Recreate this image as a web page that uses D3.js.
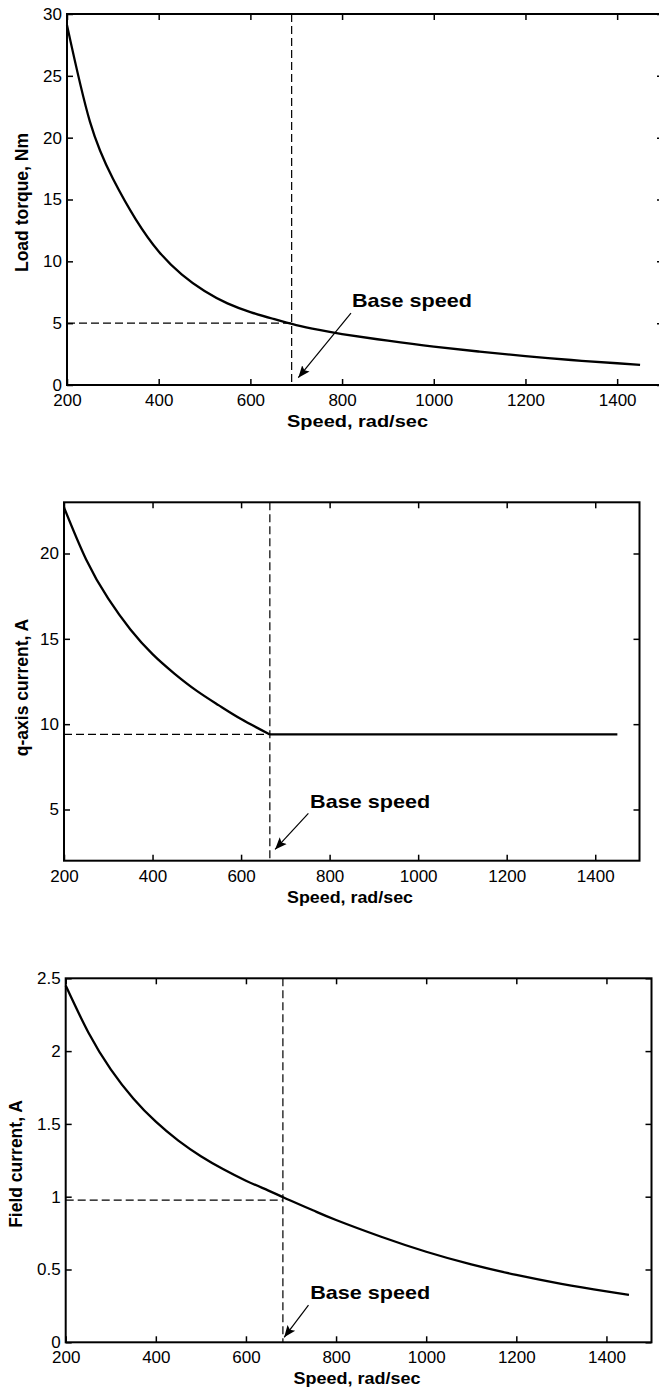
<!DOCTYPE html>
<html>
<head>
<meta charset="utf-8">
<script src="https://cdn.jsdelivr.net/npm/d3@7"></script>
<style>
  body { margin: 0; background: #fff; }
  svg { display: block; font-family: "Liberation Sans", Arial, sans-serif; }
  .tick text { font-size: 17px; fill: #000; }
  .tick line { stroke: #000; stroke-width: 1.5; }
  .domain { display: none; }
</style>
</head>
<body>
<svg id="chart" width="659" height="1393"></svg>
<script>
// ----------------------------------------------------------------------------------------------------------------------
// DATA -----------------------------------------------------------------------------------------------------------------
// ----------------------------------------------------------------------------------------------------------------------

// Shared speed axis
var xTicks = [200, 400, 600, 800, 1000, 1200, 1400];

// Load torque vs speed
var speed1 = [200, 250, 300, 350, 400, 450, 500, 550, 600, 650, 700, 750, 800, 900, 1000, 1100, 1200, 1300, 1400, 1450];
var torque = [29.1, 21.3, 16.7, 13.4, 10.8, 8.95, 7.6, 6.6, 5.9, 5.35, 4.85, 4.45, 4.12, 3.58, 3.1, 2.7, 2.33, 2.02, 1.76, 1.62];
var yTicks1 = [0, 5, 10, 15, 20, 25, 30];

// q-axis current vs speed (constant above base speed)
var speed2 = [200, 250, 300, 350, 400, 450, 500, 550, 600, 665, 900, 1200, 1450];
var iq = [22.7, 19.65, 17.35, 15.55, 14.1, 12.95, 11.95, 11.1, 10.3, 9.4, 9.4, 9.4, 9.4];
var yTicks2 = [5, 10, 15, 20];

// Field current vs speed
var speed3 = [200, 250, 300, 350, 400, 450, 500, 550, 600, 650, 682, 700, 750, 800, 900, 1000, 1100, 1200, 1300, 1400, 1450];
var field = [2.45, 2.13, 1.875, 1.675, 1.515, 1.385, 1.278, 1.188, 1.11, 1.042, 0.997, 0.972, 0.905, 0.84, 0.725, 0.622, 0.535, 0.463, 0.402, 0.35, 0.326];
var yTicks3 = [0, 0.5, 1, 1.5, 2, 2.5];

// Base speed reference points (speed, value)
var base1 = [690, 5.0];
var base2 = [665, 9.4];
var base3 = [682, 0.977];

// ----------------------------------------------------------------------------------------------------------------------
// PANELS ---------------------------------------------------------------------------------------------------------------
// ----------------------------------------------------------------------------------------------------------------------

var panels = [
  { top: 14, bottom: 385, left: 67, right: 663, yDomain: [0, 30], yTicks: yTicks1,
    xs: speed1, ys: torque, knee: null, base: base1,
    yLabel: "Load torque, Nm", yLabelX: 27.5, yLabelMid: 202.5, xLabelMid: 357.5, xLabelLen: 141,
    note: { text: [821.6, 6.31], from: [819.4, 5.82], to: [704.5, 0.59] } },
  { top: 502.3, bottom: 860.7, left: 64, right: 639.5, yDomain: [2, 23], yTicks: yTicks2,
    xs: speed2, ys: iq, knee: 9, base: base2,
    yLabel: "q-axis current, A", yLabelX: 27.5, yLabelMid: 687.5, xLabelMid: 350, xLabelLen: 126,
    note: { text: [756, 5.09], from: [752, 4.77], to: [676.8, 2.66] } },
  { top: 978.3, bottom: 1342.3, left: 65.7, right: 651.5, yDomain: [0, 2.5], yTicks: yTicks3,
    xs: speed3, ys: field, knee: null, base: base3,
    yLabel: "Field current, A", yLabelX: 21.8, yLabelMid: 1164, xLabelMid: 357, xLabelLen: 127,
    note: { text: [742.6, 0.295], from: [738.8, 0.256], to: [684.8, 0.034] } }
];

var svg = d3.select("#chart");

// Arrow head marker
svg.append("defs").append("marker")
  .attr("id", "arrow")
  .attr("markerUnits", "userSpaceOnUse")
  .attr("viewBox", "0 -5 10 10")
  .attr("refX", 10)
  .attr("refY", 0)
  .attr("markerWidth", 12)
  .attr("markerHeight", 12)
  .attr("orient", "auto")
  .append("path")
    .attr("d", "M0,-4L10,0L0,4L2,0Z")
    .attr("fill", "#000");

panels.forEach(function(p) {

  var x = d3.scaleLinear().domain([200, 1500]).range([p.left, p.right]);
  var y = d3.scaleLinear().domain(p.yDomain).range([p.bottom, p.top]);
  var g = svg.append("g");

  // Axes, ticks pointing inwards on all four sides
  g.append("g")
    .attr("transform", "translate(0," + p.bottom + ")")
    .call(d3.axisBottom(x).tickValues(xTicks).tickSize(-6).tickPadding(9).tickFormat(d3.format("d")));
  g.append("g")
    .attr("transform", "translate(0," + p.top + ")")
    .call(d3.axisTop(x).tickValues(xTicks).tickSize(-6).tickFormat(""));
  g.append("g")
    .attr("transform", "translate(" + p.left + ",0)")
    .call(d3.axisLeft(y).tickValues(p.yTicks).tickSize(-6).tickPadding(5).tickFormat(function(d) { return String(d); }));
  g.append("g")
    .attr("transform", "translate(" + p.right + ",0)")
    .call(d3.axisRight(y).tickValues(p.yTicks).tickSize(-6).tickFormat(""));

  g.selectAll(".tick text").attr("fill", "#000");

  // Plot box
  g.append("rect")
    .attr("x", p.left)
    .attr("y", p.top)
    .attr("width", p.right - p.left)
    .attr("height", p.bottom - p.top)
    .attr("fill", "none")
    .attr("stroke", "#000")
    .attr("stroke-width", 2);

  // Dashed base speed guides
  g.append("line")
    .attr("x1", x(p.base[0])).attr("x2", x(p.base[0]))
    .attr("y1", p.top).attr("y2", p.bottom)
    .attr("stroke", "#000").attr("stroke-width", 1.2).attr("stroke-dasharray", "8,4");
  g.append("line")
    .attr("x1", p.left).attr("x2", x(p.base[0]))
    .attr("y1", y(p.base[1])).attr("y2", y(p.base[1]))
    .attr("stroke", "#000").attr("stroke-width", 1.2).attr("stroke-dasharray", "8,4");

  // Curve (split at the knee where the curve turns flat)
  var pts = p.ys.map(function(d, i) { return [p.xs[i], d]; });
  var parts = p.knee === null ? [pts] : [pts.slice(0, p.knee + 1), pts.slice(p.knee)];

  var line = d3.line()
    .x(function(d) { return x(d[0]); })
    .y(function(d) { return y(d[1]); })
    .curve(d3.curveNatural);

  parts.forEach(function(part) {
    g.append("path")
      .datum(part)
      .attr("d", line)
      .attr("fill", "none")
      .attr("stroke", "#000")
      .attr("stroke-width", 2.3)
      .attr("stroke-linejoin", "round");
  });

  // Annotation
  g.append("line")
    .attr("x1", x(p.note.from[0])).attr("y1", y(p.note.from[1]))
    .attr("x2", x(p.note.to[0])).attr("y2", y(p.note.to[1]))
    .attr("stroke", "#000").attr("stroke-width", 1.2)
    .attr("marker-end", "url(#arrow)");
  g.append("text")
    .attr("x", x(p.note.text[0]))
    .attr("y", y(p.note.text[1]))
    .attr("font-size", "19px")
    .attr("font-weight", "bold")
    .attr("textLength", 120)
    .attr("lengthAdjust", "spacingAndGlyphs")
    .text("Base speed");

  // Axis labels
  g.append("text")
    .attr("x", p.xLabelMid)
    .attr("y", p.bottom + 42)
    .attr("text-anchor", "middle")
    .attr("font-size", "17px")
    .attr("font-weight", "bold")
    .attr("textLength", p.xLabelLen)
    .attr("lengthAdjust", "spacingAndGlyphs")
    .text("Speed, rad/sec");

  g.append("text")
    .attr("transform", "translate(" + p.yLabelX + "," + p.yLabelMid + ") rotate(-90)")
    .attr("text-anchor", "middle")
    .attr("font-size", "17.5px")
    .attr("font-weight", "bold")
    .text(p.yLabel);
});
</script>
</body>
</html>
